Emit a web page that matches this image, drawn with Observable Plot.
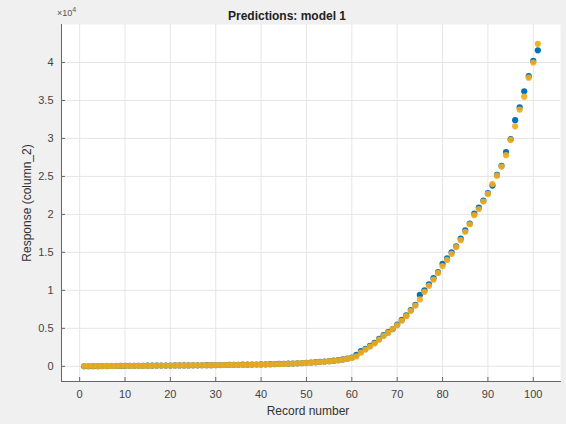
<!DOCTYPE html>
<html>
<head>
<meta charset="utf-8">
<script src="https://cdn.jsdelivr.net/npm/d3@7"></script>
<script src="https://cdn.jsdelivr.net/npm/@observablehq/plot@0.6"></script>
<style>
  html, body { margin: 0; padding: 0; background: #f0f0f0; }
  #chart { position: relative; width: 566px; height: 424px; }
  .t { position: absolute; font-family: "Liberation Sans", Arial, sans-serif; color: #333; white-space: nowrap; }
</style>
</head>
<body>
<div id="chart"></div>
<script>
const titleText = "Predictions: model 1";
const xLabel = "Record number";
const yLabel = "Response (column_2)";
const xTicks = [0, 10, 20, 30, 40, 50, 60, 70, 80, 90, 100];
const yTicks = [0, 5000, 10000, 15000, 20000, 25000, 30000, 35000, 40000];

const records = d3.range(1, 102);
// true response values
const trueValues = [
  10, 10, 20, 20, 30, 30, 40, 40, 50, 50,
  60, 60, 70, 70, 80, 80, 90, 90, 100, 100,
  110, 110, 120, 120, 130, 130, 140, 150, 150, 160,
  170, 170, 180, 190, 200, 210, 220, 230, 240, 250,
  260, 280, 290, 310, 330, 350, 370, 400, 430, 460,
  500, 540, 580, 630, 680, 740, 810, 900, 1000, 1150,
  1500, 2000, 2300, 2700, 3100, 3600, 4100, 4500, 4900, 5500,
  6100, 6700, 7400, 8100, 9400, 10000, 10800, 11600, 12400, 13500,
  14200, 15000, 15800, 16800, 17900, 18800, 20100, 20900, 21800, 22800,
  23800, 25200, 26400, 28200, 29900, 32400, 34100, 36200, 38200, 40200, 41600
];
// predicted response values
const predValues = [
  30, 30, 40, 40, 40, 50, 50, 50, 60, 60,
  60, 70, 70, 70, 80, 80, 90, 90, 100, 100,
  110, 110, 120, 120, 130, 130, 140, 140, 150, 160,
  160, 170, 180, 190, 190, 200, 210, 220, 230, 240,
  260, 270, 290, 300, 320, 340, 360, 390, 420, 450,
  490, 530, 570, 620, 670, 730, 800, 880, 980, 1100,
  1300, 1800, 2200, 2600, 3000, 3500, 4000, 4400, 4900, 5400,
  6000, 6600, 7300, 8000, 8800, 9800, 10600, 11400, 12300, 13200,
  14000, 14800, 15700, 16600, 17700, 18700, 19900, 20700, 21700, 22700,
  24000, 25100, 26300, 27800, 29800, 31600, 33800, 35500, 38000, 40000, 42450
];

const trueData = records.map((r, i) => ({record: r, value: trueValues[i]}));
const predData = records.map((r, i) => ({record: r, value: predValues[i]}));

const plot = Plot.plot({
  width: 566,
  height: 424,
  marginLeft: 61,
  marginRight: 6,
  marginTop: 24,
  marginBottom: 43,
  style: {background: "transparent", fontFamily: "Liberation Sans, Arial, sans-serif", fontSize: "11px", color: "#333"},
  x: {domain: [-4, 106]},
  y: {domain: [-2000, 45000]},
  marks: [
    Plot.frame({fill: "white", stroke: null}),
    Plot.gridX(xTicks, {stroke: "#e6e6e6", strokeOpacity: 1}),
    Plot.gridY(yTicks, {stroke: "#e6e6e6", strokeOpacity: 1}),
    Plot.frame({anchor: "bottom", stroke: "#666"}),
    Plot.frame({anchor: "left", stroke: "#666"}),
    Plot.axisX(xTicks, {tickSize: 0, tickPadding: 9, label: null, fill: "#444"}),
    Plot.axisY(yTicks, {tickSize: 0, tickPadding: 8, label: null, tickFormat: d => d / 1e4, fill: "#444"}),
    Plot.tickX(xTicks, {x: d => d, y: null, insetTop: 353, stroke: "#666"}),
    Plot.tickY(yTicks, {y: d => d, x: null, insetRight: 495, stroke: "#666"}),
    Plot.dot(trueData, {x: "record", y: "value", r: 3.1, fill: "#0072BD", stroke: null}),
    Plot.dot(predData, {x: "record", y: "value", r: 3.1, fill: "#F0AC1C", fillOpacity: 0.92, stroke: null})
  ]
});
const chart = document.getElementById("chart");
chart.appendChild(plot);
plot.style.position = "absolute";
plot.style.left = "0px";
plot.style.top = "0px";

function addText(txt, css, html) {
  const d = document.createElement("div");
  d.className = "t";
  if (html) d.innerHTML = txt; else d.textContent = txt;
  Object.assign(d.style, css);
  chart.appendChild(d);
  return d;
}
addText(titleText, {left: "287px", top: "9px", transform: "translateX(-50%)", fontWeight: "bold", fontSize: "12px", color: "#222"});
addText("×10<sup style='font-size:7px'>4</sup>", {left: "57px", top: "6px", fontSize: "9px", color: "#555"}, true);
addText(xLabel, {left: "308px", top: "404px", transform: "translateX(-50%)", fontSize: "12px", color: "#333"});
addText(yLabel, {left: "27px", top: "203px", transform: "translate(-50%, -50%) rotate(-90deg)", fontSize: "12px", color: "#333"});
</script>
</body>
</html>
